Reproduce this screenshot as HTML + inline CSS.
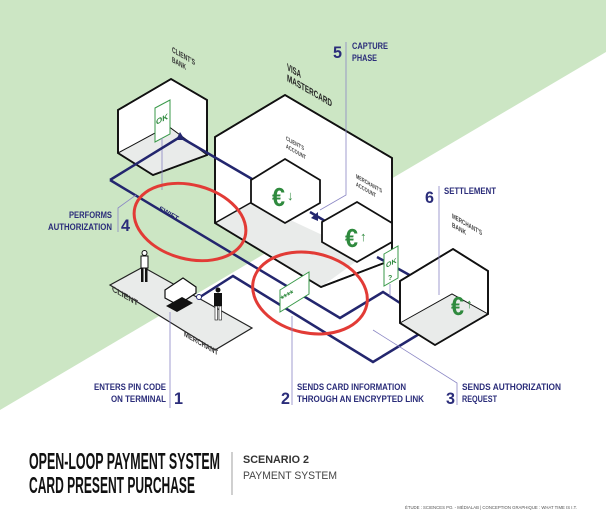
<!DOCTYPE html>
<html><head><meta charset="utf-8"><style>
html,body{margin:0;padding:0;background:#fff}
svg{display:block}
text{font-family:"Liberation Sans",sans-serif}
</style></head><body>
<svg width="606" height="516" viewBox="0 0 606 516" xmlns="http://www.w3.org/2000/svg">
<polygon points="0,0 606,0 606,52 0,410" fill="#cce6c4"/>

<!-- platform -->
<polygon points="110,285 143,267 252,328 215,350" fill="#e9ebea" stroke="#222" stroke-width="1.2"/>
<text transform="translate(112,291) skewY(30)" font-size="8" font-weight="bold" fill="#333" textLength="26" lengthAdjust="spacingAndGlyphs">CLIENT</text>
<text transform="translate(184,336) skewY(30)" font-size="8" font-weight="bold" fill="#333" textLength="34" lengthAdjust="spacingAndGlyphs">MERCHANT</text>

<!-- client's bank cube -->
<polygon points="171,79 207,100 207,155 153,175 118,153 118,110" fill="#fff" stroke="#111" stroke-width="1.8"/>
<polygon points="118,153 168,126 207,155 153,175" fill="#e9ebea" stroke="#111" stroke-width="1"/>
<polygon points="118,110 171,79 207,100 207,155 153,175 118,153" fill="none" stroke="#111" stroke-width="1.8"/>
<polygon points="155,108 170,100 170,134 155,142" fill="#fff" stroke="#3a9a4a" stroke-width="1"/>
<text transform="translate(156,125) skewY(-28)" font-size="8" font-weight="bold" fill="#2f8a3e">OK</text>
<line x1="162" y1="138" x2="162" y2="190" stroke="#8a86c4" stroke-width="0.8"/>
<text transform="translate(172,52) skewY(30)" font-size="8" font-weight="bold" fill="#333" textLength="23" lengthAdjust="spacingAndGlyphs">CLIENT'S</text>
<text transform="translate(172,62) skewY(30)" font-size="8" font-weight="bold" fill="#333" textLength="14" lengthAdjust="spacingAndGlyphs">BANK</text>

<!-- visa big hex -->
<polygon points="285,95 392,158 392,260 321,287 215,223 215,137" fill="#fff" stroke="#111" stroke-width="1.8"/>
<polygon points="215,223 252,202 365,255 321,287" fill="#e9ebea"/>
<line x1="215" y1="223" x2="252" y2="202" stroke="#111" stroke-width="1.5"/>
<polygon points="285,95 392,158 392,260 321,287 215,223 215,137" fill="none" stroke="#111" stroke-width="1.8"/>
<text transform="translate(287,70) skewY(30)" font-size="10" font-weight="bold" fill="#222" textLength="14" lengthAdjust="spacingAndGlyphs">VISA</text>
<text transform="translate(287,81) skewY(30)" font-size="10" font-weight="bold" fill="#222" textLength="45" lengthAdjust="spacingAndGlyphs">MASTERCARD</text>

<!-- navy paths -->
<g fill="none" stroke="#23266e" stroke-width="2.5" stroke-linejoin="miter">
<polyline points="110,180 180,137 252,179"/>
<polyline points="110,180 340,318 383,292 434,325"/>
<polyline points="200,297 233,276 373,362 434,325"/>
<polyline points="310,212 330,224"/>
<polyline points="377,257 440,292"/>
</g>
<polygon points="447,296 432,296 440,286" fill="#23266e"/>
<polygon points="180,132 185,140 176,140" fill="#23266e"/>
<polygon points="311,218 318,212 318,221" fill="#23266e"/>
<text transform="translate(158,210) rotate(30)" font-size="7" font-weight="bold" fill="#23266e" textLength="22" lengthAdjust="spacingAndGlyphs">SWIFT</text>

<!-- client account hex -->
<polygon points="285,159 320,180 320,203 285,223 251,203 251,180" fill="#fff" stroke="#111" stroke-width="1.8"/>
<text x="272" y="206" font-size="26" font-weight="bold" fill="#2f8a3e" textLength="13" lengthAdjust="spacingAndGlyphs">€</text>
<text x="287" y="200" font-size="13" fill="#2f8a3e">↓</text>
<text transform="translate(286,140) skewY(30)" font-size="6" font-weight="bold" fill="#444" textLength="18" lengthAdjust="spacingAndGlyphs">CLIENT'S</text>
<text transform="translate(286,148) skewY(30)" font-size="6" font-weight="bold" fill="#444" textLength="20" lengthAdjust="spacingAndGlyphs">ACCOUNT</text>

<!-- merchant account hex -->
<polygon points="357,202 392,223 392,242 357,262 322,242 322,222" fill="#fff" stroke="#111" stroke-width="1.8"/>
<text x="345" y="247" font-size="26" font-weight="bold" fill="#2f8a3e" textLength="13" lengthAdjust="spacingAndGlyphs">€</text>
<text x="360" y="241" font-size="13" fill="#2f8a3e">↑</text>
<text transform="translate(356,178) skewY(30)" font-size="6" font-weight="bold" fill="#444" textLength="26" lengthAdjust="spacingAndGlyphs">MERCHANT'S</text>
<text transform="translate(356,186) skewY(30)" font-size="6" font-weight="bold" fill="#444" textLength="20" lengthAdjust="spacingAndGlyphs">ACCOUNT</text>

<!-- merchant bank cube -->
<polygon points="453,249 488,271 488,314 435,345 400,323 400,281" fill="#fff" stroke="#111" stroke-width="1.8"/>
<polygon points="400,323 452,294 488,314 435,345" fill="#e9ebea" stroke="#111" stroke-width="1"/>
<polygon points="453,249 488,271 488,314 435,345 400,323 400,281" fill="none" stroke="#111" stroke-width="1.8"/>
<text x="451" y="315" font-size="26" font-weight="bold" fill="#2f8a3e" textLength="13" lengthAdjust="spacingAndGlyphs">€</text>
<text x="466" y="308" font-size="13" fill="#2f8a3e">↑</text>
<text transform="translate(452,218) skewY(30)" font-size="7" font-weight="bold" fill="#444" textLength="30" lengthAdjust="spacingAndGlyphs">MERCHANT'S</text>
<text transform="translate(452,227) skewY(30)" font-size="7" font-weight="bold" fill="#444" textLength="14" lengthAdjust="spacingAndGlyphs">BANK</text>

<!-- OK? card -->
<polygon points="384,254 398,246 398,278 384,286" fill="#fff" stroke="#3a9a4a" stroke-width="1"/>
<text transform="translate(386,268) skewY(-28)" font-size="7" font-weight="bold" fill="#2f8a3e">OK</text>
<text x="388" y="280" font-size="7" font-weight="bold" fill="#2f8a3e">?</text>
<line x1="390" y1="284" x2="390" y2="296" stroke="#8a86c4" stroke-width="0.8"/>

<!-- **** card -->
<polygon points="280,290 309,272 309,294 280,312" fill="#fff" stroke="#3a9a4a" stroke-width="1"/>
<text transform="translate(283,302) rotate(-30)" font-size="9" font-weight="bold" fill="#2f8a3e">****</text>

<!-- terminal & people -->
<polygon points="165,290 183,278 196,287 196,293 178,305 165,298" fill="#fff" stroke="#111" stroke-width="1.2"/>
<polygon points="166,306 182,297 193,303 177,312" fill="#111"/>
<circle cx="199" cy="297" r="2.5" fill="#fff" stroke="#23266e" stroke-width="1"/>
<rect x="141" y="256" width="7" height="12" fill="#fff" stroke="#111" stroke-width="1"/>
<circle cx="144.5" cy="253" r="2.5" fill="#fff" stroke="#111"/>
<rect x="141" y="268" width="2.5" height="14" fill="#111"/><rect x="145" y="268" width="2.5" height="14" fill="#111"/>
<rect x="214" y="293" width="8" height="13" fill="#111"/>
<circle cx="218" cy="290" r="2.5" fill="#111"/>
<rect x="215" y="306" width="2.5" height="14" fill="#fff" stroke="#111" stroke-width="0.6"/><rect x="219" y="306" width="2.5" height="14" fill="#fff" stroke="#111" stroke-width="0.6"/>

<!-- red ellipses -->
<ellipse cx="190" cy="222" rx="57" ry="37" transform="rotate(15 190 222)" fill="none" stroke="#e23b36" stroke-width="3"/>
<ellipse cx="310" cy="293" rx="58" ry="40" transform="rotate(12 310 293)" fill="none" stroke="#e23b36" stroke-width="3"/>

<!-- leader lines -->
<g stroke="#8a86c4" stroke-width="0.8" fill="none">
<polyline points="346,42 346,195 320,210"/>
<line x1="439" y1="186" x2="439" y2="295"/>
<polyline points="118,232 118,208 136,195"/>
<line x1="170" y1="312" x2="170" y2="408"/>
<line x1="292" y1="316" x2="292" y2="405"/>
<polyline points="457,405 457,383 373,330"/>
</g>

<!-- step labels -->
<g fill="#2b2d7a" font-weight="bold">
<text x="333" y="58" font-size="17" textLength="9" lengthAdjust="spacingAndGlyphs">5</text>
<text x="352" y="49" font-size="9" textLength="36" lengthAdjust="spacingAndGlyphs">CAPTURE</text>
<text x="352" y="61" font-size="9" textLength="25" lengthAdjust="spacingAndGlyphs">PHASE</text>
<text x="425" y="203" font-size="17" textLength="9" lengthAdjust="spacingAndGlyphs">6</text>
<text x="444" y="194" font-size="9" textLength="52" lengthAdjust="spacingAndGlyphs">SETTLEMENT</text>
<text x="121" y="231" font-size="17" textLength="9" lengthAdjust="spacingAndGlyphs">4</text>
<text x="112" y="218" font-size="9" text-anchor="end" textLength="43" lengthAdjust="spacingAndGlyphs">PERFORMS</text>
<text x="112" y="230" font-size="9" text-anchor="end" textLength="64" lengthAdjust="spacingAndGlyphs">AUTHORIZATION</text>
<text x="174" y="404" font-size="17" textLength="9" lengthAdjust="spacingAndGlyphs">1</text>
<text x="166" y="390" font-size="9" text-anchor="end" textLength="72" lengthAdjust="spacingAndGlyphs">ENTERS PIN CODE</text>
<text x="166" y="402" font-size="9" text-anchor="end" textLength="55" lengthAdjust="spacingAndGlyphs">ON TERMINAL</text>
<text x="281" y="404" font-size="17" textLength="9" lengthAdjust="spacingAndGlyphs">2</text>
<text x="297" y="390" font-size="9" textLength="109" lengthAdjust="spacingAndGlyphs">SENDS CARD INFORMATION</text>
<text x="297" y="402" font-size="9" textLength="127" lengthAdjust="spacingAndGlyphs">THROUGH AN ENCRYPTED LINK</text>
<text x="446" y="404" font-size="17" textLength="9" lengthAdjust="spacingAndGlyphs">3</text>
<text x="462" y="390" font-size="9" textLength="99" lengthAdjust="spacingAndGlyphs">SENDS AUTHORIZATION</text>
<text x="462" y="402" font-size="9" textLength="35" lengthAdjust="spacingAndGlyphs">REQUEST</text>
</g>

<!-- title -->
<text x="29" y="469" font-size="23" font-weight="bold" fill="#111" textLength="191" lengthAdjust="spacingAndGlyphs">OPEN-LOOP PAYMENT SYSTEM</text>
<text x="29" y="493" font-size="23" font-weight="bold" fill="#111" textLength="166" lengthAdjust="spacingAndGlyphs">CARD PRESENT PURCHASE</text>
<line x1="232" y1="452" x2="232" y2="495" stroke="#888" stroke-width="0.8"/>
<text x="243" y="463" font-size="11" font-weight="bold" fill="#333" textLength="66" lengthAdjust="spacingAndGlyphs">SCENARIO 2</text>
<text x="243" y="479" font-size="11" fill="#444" textLength="94" lengthAdjust="spacingAndGlyphs">PAYMENT SYSTEM</text>
<text x="405" y="509" font-size="4.5" fill="#555" textLength="172" lengthAdjust="spacingAndGlyphs">ÉTUDE : SCIENCES PO. - MÉDIALAB | CONCEPTION GRAPHIQUE : WHAT TIME IS I.T.</text>
</svg>
</body></html>
